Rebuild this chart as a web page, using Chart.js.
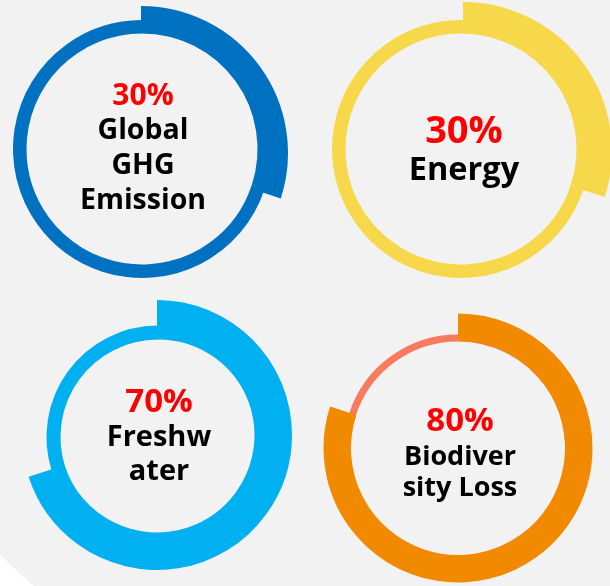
<!DOCTYPE html>
<html>
<head>
<meta charset="utf-8">
<script src="https://cdn.jsdelivr.net/npm/chart.js@4.4.1/dist/chart.umd.min.js"></script>
<style>
  html, body { margin: 0; padding: 0; }
  body {
    width: 610px;
    height: 586px;
    overflow: hidden;
    position: relative;
    background: #ffffff;
    font-family: "Open Sans", "Noto Sans", sans-serif;
  }
  #backdrop {
    position: absolute;
    left: -127px;
    top: -213px;
    width: 906px;
    height: 906px;
    border-radius: 50%;
    background: #f2f2f2;
  }
  canvas { position: absolute; }
  .caption {
    position: absolute;
    width: 220px;
    text-align: center;
    font-weight: 700;
    color: #000;
    white-space: nowrap;
  }
  .caption .pct { color: #ff0000; }
</style>
</head>
<body>
<div id="backdrop"></div>
<script>
const categories = ["Global GHG Emission", "Energy", "Freshwater", "Biodiversity Loss"];
const shares = [30, 30, 70, 80];
const captionLines = [["Global", "GHG", "Emission"], ["Energy"], ["Freshw", "ater"], ["Biodiver", "sity Loss"]];

const arcColors = ["#0070c0", "#f8d84b", "#00b0f0", "#f18a00"];
const trackColors = ["#0070c0", "#f8d84b", "#00b0f0", "#f87a5f"];

// where each ring sits: thin track, thick highlighted arc, caption block
const layout = [
  {
    track: { cx: 142, cy: 149, inner: 115.5, outer: 129 },
    arc: { cx: 141, cy: 153, inner: 120, outer: 147 },
    text: { x: 143, top: 76, pct: 30, pctLine: 35, label: 28.5, labelLine: 35 }
  },
  {
    track: { cx: 461, cy: 149, inner: 115.5, outer: 129 },
    arc: { cx: 463, cy: 151, inner: 118, outer: 149 },
    text: { x: 464, top: 108, pct: 38, pctLine: 40, label: 32.5, labelLine: 40 }
  },
  {
    track: { cx: 158, cy: 437, inner: 97.5, outer: 111.5 },
    arc: { cx: 157, cy: 435, inner: 97.5, outer: 135 },
    text: { x: 159, top: 381, pct: 33, pctLine: 37, label: 29, labelLine: 34 }
  },
  {
    track: { cx: 458, cy: 449, inner: 107.5, outer: 114.5 },
    arc: { cx: 458, cy: 448, inner: 107, outer: 134.5 },
    text: { x: 460, top: 399, pct: 33, pctLine: 40, label: 27, labelLine: 31 }
  }
];

const SIZE = 320;

function addCanvas(cx, cy) {
  const canvas = document.createElement("canvas");
  canvas.width = SIZE;
  canvas.height = SIZE;
  canvas.style.left = (cx - SIZE / 2) + "px";
  canvas.style.top = (cy - SIZE / 2) + "px";
  document.body.appendChild(canvas);
  return canvas;
}

function ringChart(canvas, label, values, colors, ring) {
  return new Chart(canvas, {
    type: "doughnut",
    data: {
      labels: ["share", "rest"],
      datasets: [{ label, data: values, backgroundColor: colors, borderWidth: 0 }]
    },
    options: {
      responsive: false,
      animation: false,
      events: [],
      radius: ring.outer,
      cutout: (ring.inner / ring.outer * 100) + "%",
      plugins: { legend: { display: false }, tooltip: { enabled: false } }
    }
  });
}

shares.forEach((share, i) => {
  const values = [share, 100 - share];
  const box = layout[i];

  ringChart(addCanvas(box.track.cx, box.track.cy), categories[i], values,
    [trackColors[i], trackColors[i]], box.track);
  ringChart(addCanvas(box.arc.cx, box.arc.cy), categories[i], values,
    [arcColors[i], "rgba(0,0,0,0)"], box.arc);

  const t = box.text;
  const caption = document.createElement("div");
  caption.className = "caption";
  caption.style.left = (t.x - 110) + "px";
  caption.style.top = t.top + "px";

  const pct = document.createElement("div");
  pct.className = "pct";
  pct.style.fontSize = t.pct + "px";
  pct.style.lineHeight = t.pctLine + "px";
  pct.innerText = share + "%";
  caption.appendChild(pct);

  for (const line of captionLines[i]) {
    const row = document.createElement("div");
    row.style.fontSize = t.label + "px";
    row.style.lineHeight = t.labelLine + "px";
    row.innerText = line;
    caption.appendChild(row);
  }
  document.body.appendChild(caption);
});
</script>
</body>
</html>
